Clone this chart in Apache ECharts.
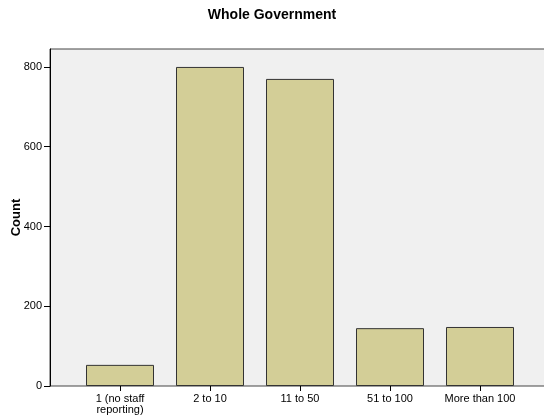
<!DOCTYPE html>
<html><head><meta charset="utf-8">
<script src="https://cdn.jsdelivr.net/npm/echarts@6/dist/echarts.min.js"></script>
<style>html,body{margin:0;padding:0;background:#fff}#c{width:544px;height:418px}</style>
</head><body><div id="c"></div>
<script>
const categories = ['1 (no staff\nreporting)', '2 to 10', '11 to 50', '51 to 100', 'More than 100'];
const counts = [53, 800, 770, 145, 148];
const yTicks = [0, 200, 400, 600, 800];
const yMax = 845;

const chart = echarts.init(document.getElementById('c'), null, {renderer: 'canvas'});
chart.setOption({
  animation: false,
  backgroundColor: '#ffffff',
  title: {
    text: 'Whole Government', left: 'center', top: 3,
    textStyle: {fontFamily: 'Liberation Sans, Arial', fontSize: 14, fontWeight: 'bold', color: '#000'}
  },
  grid: [
    {left: 50, top: 49, width: 510, height: 337, show: true, backgroundColor: '#f0f0f0', borderColor: '#444', borderWidth: 1, containLabel: false, outerBoundsMode: 'none'},
    {left: 75, top: 49, width: 450, height: 337, containLabel: false, outerBoundsMode: 'none'}
  ],
  xAxis: [
    {gridIndex: 0, type: 'value', min: 0, max: 1, show: false},
    {gridIndex: 1, type: 'category', data: categories,
     axisLine: {show: false},
     axisTick: {show: true, alignWithLabel: true, length: 5, lineStyle: {color: '#000'}},
     axisLabel: {fontFamily: 'Liberation Sans, Arial', fontSize: 11, color: '#000', margin: 7, lineHeight: 11, interval: 0}}
  ],
  yAxis: [
    {gridIndex: 0, type: 'value', min: 0, max: yMax,
     name: 'Count', nameLocation: 'middle', nameGap: 27, nameRotate: 90, nameMoveOverlap: false,
     nameTextStyle: {fontFamily: 'Liberation Sans, Arial', fontSize: 13, fontWeight: 'bold', color: '#000'},
     axisLine: {show: true, lineStyle: {color: '#000'}},
     axisTick: {show: true, length: 6, customValues: yTicks, lineStyle: {color: '#000'}},
     axisLabel: {customValues: yTicks, fontFamily: 'Liberation Sans, Arial', fontSize: 11, color: '#000', margin: 8},
     splitLine: {show: false}},
    {gridIndex: 1, type: 'value', min: 0, max: yMax, show: false}
  ],
  series: [{
    type: 'bar', xAxisIndex: 1, yAxisIndex: 1, data: counts, barWidth: 68,
    itemStyle: {color: '#d3ce97', borderColor: '#333', borderWidth: 1}
  }]
});
</script></body></html>
